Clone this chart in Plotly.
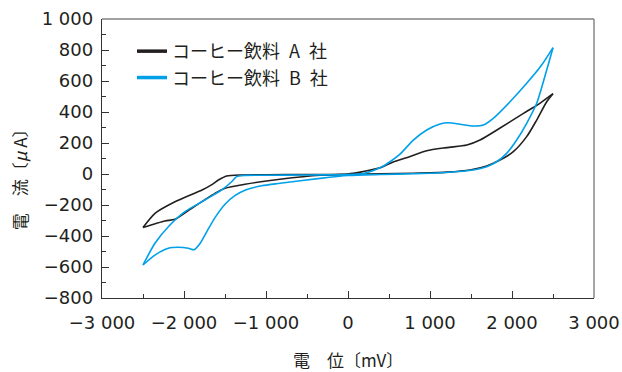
import plotly.graph_objects as go

# ---------------- data ----------------
# Company A (black) : forward branch (left tip -> right tip) and return branch (right tip -> left tip)
a_fwd_x = [-2500, -2350, -2110, -1900, -1780, -1650, -1580, -1480, -1300, -1000, -500, 0, 150, 390, 550, 750, 960, 1200, 1450, 1610, 1850, 2140, 2340, 2500]
a_fwd_y = [-345, -252, -179, -130, -103, -65, -39, -13, -6, -5, -3, 0, 12, 40, 78, 112, 150, 170, 187, 219, 295, 391, 456, 518]
a_ret_x = [2500, 2423, 2301, 2179, 2016, 1854, 1691, 1488, 1200, 800, 400, 0, -341, -829, -1256, -1500, -1622, -1906, -2110, -2232, -2500]
a_ret_y = [518, 466, 348, 241, 144, 90, 52, 26, 12, 5, 2, -3, -8, -34, -66, -92, -125, -221, -292, -303, -345]

# Company B (blue)
b_fwd_x = [-2500, -2354, -2191, -1988, -1744, -1540, -1419, -1358, -1256, -1000, -500, 0, 200, 390, 512, 634, 797, 960, 1122, 1224, 1366, 1528, 1650, 1772, 1976, 2179, 2362, 2500]
b_fwd_y = [-587, -447, -340, -243, -168, -103, -50, -17, -9, -8, -6, -4, 5, 40, 79, 128, 219, 284, 323, 331, 321, 310, 316, 359, 466, 585, 703, 815]
b_ret_x = [2500, 2423, 2301, 2179, 2057, 1935, 1813, 1691, 1528, 1200, 800, 400, 0, -341, -829, -1052, -1250, -1380, -1500, -1620, -1720, -1800, -1875, -1947, -2069, -2191, -2354, -2500]
b_ret_y = [815, 671, 456, 327, 219, 133, 79, 47, 26, 10, 2, -3, -10, -28, -60, -76, -103, -140, -195, -280, -370, -445, -488, -479, -473, -479, -523, -587]

names = ["コーヒー飲料\u2002A\u2002社", "コーヒー飲料\u2002B\u2002社"]
colors = ["#231f20", "#00a0e9"]

x_ticks = [-3000, -2000, -1000, 0, 1000, 2000, 3000]
x_ticktext = ["−3 000", "−2 000", "−1 000", "0", "1 000", "2 000", "3 000"]
y_ticks = [-800, -600, -400, -200, 0, 200, 400, 600, 800, 1000]
y_ticktext = ["−800", "−600", "−400", "−200", "0", "200", "400", "600", "800", "1 000"]

x_title = "電　位〔mV〕"
y_title = "電　流〔<i>μ</i> A〕"

# ---------------- figure ----------------
fig = go.Figure()
series = [(a_fwd_x, a_fwd_y, a_ret_x, a_ret_y), (b_fwd_x, b_fwd_y, b_ret_x, b_ret_y)]
for i, (fx, fy, rx, ry) in enumerate(series):
    for bx, by in ((fx, fy), (rx, ry)):
        fig.add_trace(go.Scatter(x=bx, y=by, mode="lines",
                                 line=dict(color=colors[i], width=1.6, shape="spline", smoothing=0.7),
                                 showlegend=False, hoverinfo="skip"))
    # legend entry
    fig.add_trace(go.Scatter(x=[None], y=[None], mode="lines", name=names[i],
                             line=dict(color=colors[i], width=3.5)))

axis_font = dict(family="DejaVu Sans", size=18, color="#231f20")
fig.update_xaxes(range=[-3000, 3000], tickvals=x_ticks, ticktext=x_ticktext,
                 ticks="inside", ticklen=7, tickwidth=1.2, tickcolor="#333",
                 minor=dict(dtick=500, tick0=0, ticks="inside", ticklen=4, tickwidth=1.2, tickcolor="#333"),
                 showline=True, linecolor="#333", linewidth=1.4, showgrid=False, zeroline=False,
                 tickfont=axis_font, ticklabelstandoff=8, automargin=False)
fig.update_yaxes(range=[-800, 1000], tickvals=y_ticks, ticktext=y_ticktext,
                 ticks="inside", ticklen=7, tickwidth=1.2, tickcolor="#333",
                 minor=dict(dtick=100, tick0=0, ticks="inside", ticklen=4, tickwidth=1.2, tickcolor="#333"),
                 showline=True, linecolor="#333", linewidth=1.4, showgrid=False, zeroline=False,
                 tickfont=axis_font, ticklabelstandoff=4, automargin=False)

# top and right frame lines (lighter grey)
fig.add_shape(type="line", xref="paper", yref="paper", x0=0, x1=1, y0=1, y1=1,
              line=dict(color="#808080", width=1.4))
fig.add_shape(type="line", xref="paper", yref="paper", x0=1, x1=1, y0=0, y1=1,
              line=dict(color="#808080", width=1.4))

title_font = dict(family="Noto Sans CJK JP", size=17, color="#231f20")
fig.add_annotation(text=x_title, xref="paper", yref="paper", x=0.5, y=-0.222,
                   xanchor="center", yanchor="middle", showarrow=False, font=title_font)
fig.add_annotation(text=y_title, xref="paper", yref="paper", x=-0.166, y=0.441,
                   xanchor="center", yanchor="middle", showarrow=False, textangle=-90, font=title_font)

fig.update_layout(width=622, height=372,
                  margin=dict(l=102, r=28, t=19, b=74, autoexpand=False),
                  paper_bgcolor="white", plot_bgcolor="white",
                  legend=dict(x=0.061, y=0.95, xanchor="left", yanchor="top",
                              bgcolor="rgba(0,0,0,0)", itemwidth=30,
                              font=dict(family="Noto Sans CJK JP", size=18, color="#231f20")))

fig.write_html("out.html", config={"displayModeBar": False},
               post_script="document.body.style.margin='0px';")
